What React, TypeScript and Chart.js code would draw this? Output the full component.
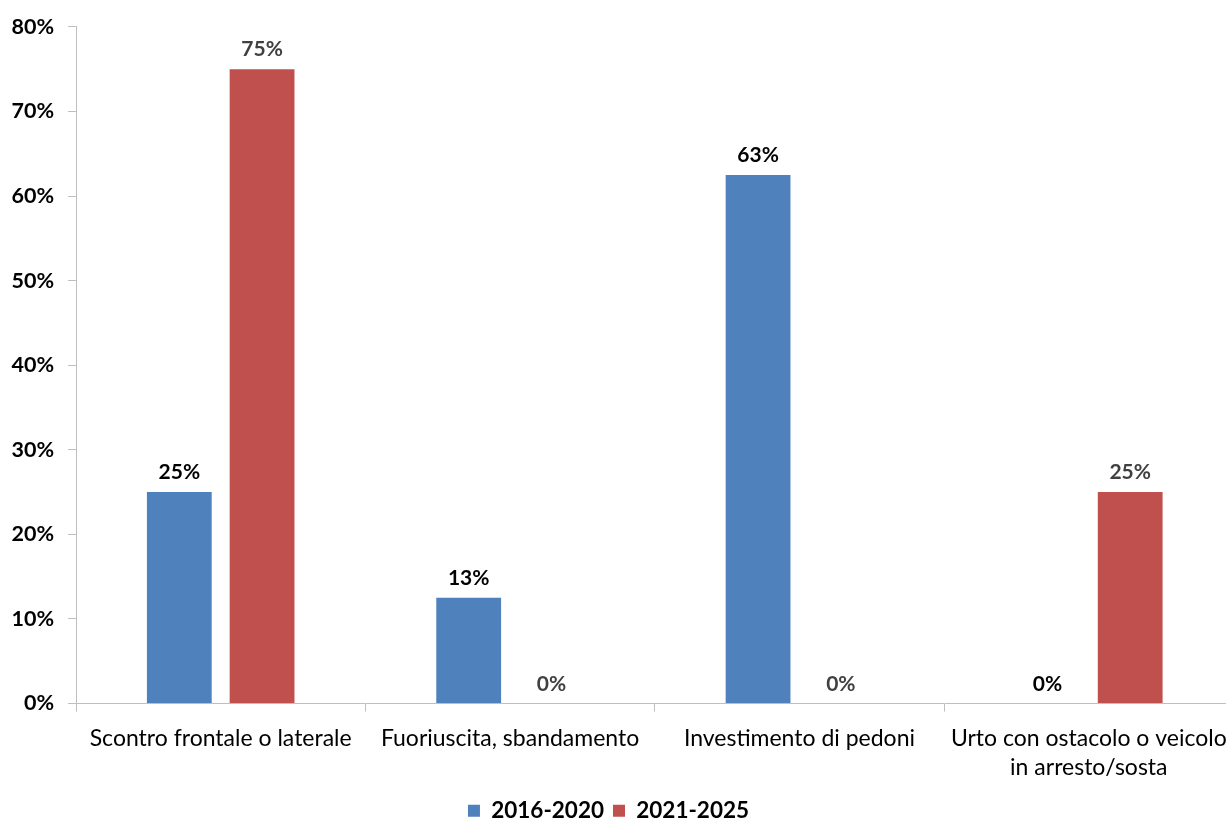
import React, { useEffect, useRef } from "react";
import { Chart, registerables } from "chart.js";

Chart.register(...registerables);

const categories: (string | string[])[] = [
  "Scontro frontale o laterale",
  "Fuoriuscita, sbandamento",
  "Investimento di pedoni",
  ["Urto con ostacolo o veicolo", "in arresto/sosta"],
];
const series1Label = "2016-2020";
const series2Label = "2021-2025";
const series1Values = [25, 12.5, 62.5, 0];
const series2Values = [75, 0, 0, 25];
const yTicks = [0, 10, 20, 30, 40, 50, 60, 70, 80];

const FONT = "Lato, 'Open Sans', sans-serif";
const labelColors = ["#000000", "#404040"];

const dataLabelsPlugin = {
  id: "dataLabels",
  afterDatasetsDraw(chart: any) {
    const ctx = chart.ctx;
    ctx.save();
    ctx.font = `bold 21px ${FONT}`;
    ctx.textAlign = "center";
    ctx.textBaseline = "bottom";
    chart.data.datasets.forEach((ds: any, di: number) => {
      const meta = chart.getDatasetMeta(di);
      meta.data.forEach((el: any, i: number) => {
        const v = ds.data[i] as number;
        ctx.fillStyle = labelColors[di];
        ctx.fillText(Math.round(v) + "%", el.x, el.y - 9);
      });
    });
    ctx.restore();
  },
};

export default function App() {
  const ref = useRef<HTMLCanvasElement | null>(null);
  useEffect(() => {
    if (!ref.current) return;
    const chart = new Chart(ref.current, {
      type: "bar",
      data: {
        labels: categories as any,
        datasets: [
          {
            label: series1Label,
            data: series1Values,
            backgroundColor: "#4F81BD",
            categoryPercentage: 0.572,
            barPercentage: 0.783,
          },
          {
            label: series2Label,
            data: series2Values,
            backgroundColor: "#C0504D",
            categoryPercentage: 0.572,
            barPercentage: 0.783,
          },
        ],
      },
      options: {
        responsive: false,
        animation: false,
        layout: { padding: { top: 16, right: 2, left: 0, bottom: 0 } },
        plugins: {
          legend: {
            position: "bottom",
            labels: {
              boxWidth: 12,
              boxHeight: 12,
              padding: 9,
              color: "#000",
              font: { family: FONT, size: 22.5, weight: "bold" },
            },
          },
          tooltip: { enabled: false },
        },
        scales: {
          x: {
            grid: {
              display: true,
              drawOnChartArea: false,
              drawTicks: true,
              tickLength: 8,
              color: "#BFBFBF",
              offset: true,
            },
            border: { color: "#BFBFBF", width: 1 },
            ticks: {
              color: "#000",
              font: { family: FONT, size: 23, lineHeight: 1.27 },
              maxRotation: 0,
              autoSkip: false,
              padding: 12,
            },
            afterFit(scale: any) {
              scale.height = 87;
            },
          },
          y: {
            min: 0,
            max: 80,
            afterBuildTicks(scale: any) {
              scale.ticks = yTicks.map((v) => ({ value: v }));
            },
            grid: {
              display: true,
              drawOnChartArea: false,
              drawTicks: true,
              tickLength: 8,
              color: "#BFBFBF",
            },
            border: { color: "#BFBFBF", width: 1 },
            ticks: {
              color: "#000",
              font: { family: FONT, size: 21.5, weight: "bold" },
              padding: 14,
              callback: (v: any) => v + "%",
            },
            afterFit(scale: any) {
              scale.width = 96;
            },
          },
        },
      },
      plugins: [dataLabelsPlugin],
    });
    return () => chart.destroy();
  }, []);
  return (
    <div
      style={{
        position: "fixed",
        left: 0,
        top: 0,
        width: 1226,
        height: 818,
        overflow: "hidden",
        background: "#fff",
      }}
    >
      <canvas
        ref={ref}
        width={1259}
        height={832}
        style={{ width: 1259, height: 832, display: "block", marginLeft: -20 }}
      />
    </div>
  );
}
